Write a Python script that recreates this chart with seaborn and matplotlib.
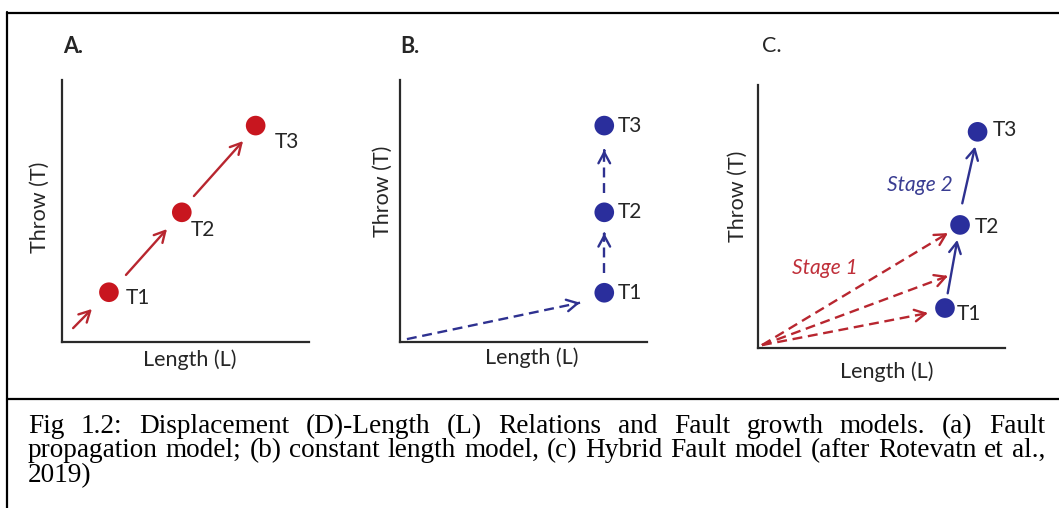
import matplotlib
matplotlib.use("Agg")
import matplotlib.pyplot as plt
import seaborn as sns
import numpy as np
import pandas as pd
from matplotlib.lines import Line2D

sns.set_theme(style="white")
plt.rcParams['font.family'] = ['Lato', 'DejaVu Sans']

# ---------------- data ----------------
labels = ["T1", "T2", "T3"]
# Panel A: fault propagation model
a_x = [1.90, 4.85, 7.84]
a_y = [1.90, 4.95, 8.26]
a_arrow_tail = [(0.45, 0.53), (2.59, 2.56), (5.34, 5.57)]
a_arrow_tip = [(1.21, 1.26), (4.25, 4.31), (7.33, 7.67)]
# Panel B: constant length model
b_x = [8.27, 8.27, 8.27]
b_y = [1.88, 4.95, 8.26]
b_arrow_tail = [(0.28, 0.11), (8.27, 2.62), (8.27, 5.68)]
b_arrow_tip = [(7.29, 1.50), (8.27, 4.15), (8.27, 7.33)]
# Panel C: hybrid model
c_x = [7.57, 8.18, 8.89]
c_y = [1.52, 4.68, 8.22]
c_red_tail = [(0.16, 0.11), (0.16, 0.11), (0.16, 0.11)]
c_red_tip = [(7.69, 4.37), (7.69, 2.74), (6.88, 1.33)]
c_blue_tail = [(7.68, 2.08), (8.27, 5.50)]
c_blue_tip = [(8.07, 4.11), (8.79, 7.66)]

panel_titles = ["A.", "B.", "C."]
xlabel = "Length (L)"
ylabel = "Throw (T)"
stage_labels = ["Stage 1", "Stage 2"]
caption_lines = [
    "Fig 1.2: Displacement (D)-Length (L) Relations and Fault growth models. (a) Fault",
    "propagation model; (b) constant length model, (c) Hybrid Fault model (after Rotevatn et al.,",
    "2019)",
]

# ---------------- style ----------------
W, H = 1059, 508
RED = "#c8161f"
RED_ARROW = "#b8262f"
BLUE = "#2a2e9c"
BLUE_ARROW = "#2e3190"
AXC = "#2a2a2a"
TXT = "#262626"
MS = 200

fig = plt.figure(figsize=(W / 100, H / 100), dpi=100)


def px_axes(left, right, top, bottom):
    ax = fig.add_axes([left / W, 1 - bottom / H, (right - left) / W, (bottom - top) / H])
    ax.set_xlim(0, 10)
    ax.set_ylim(0, 10)
    ax.set_xticks([])
    ax.set_yticks([])
    for s in ["top", "right"]:
        ax.spines[s].set_visible(False)
    for s in ["left", "bottom"]:
        ax.spines[s].set_linewidth(1.6)
        ax.spines[s].set_color(AXC)
    ax.patch.set_alpha(0)
    return ax


def fig_text(x, y, s, **kw):
    fig.text(x / W, 1 - y / H, s, **kw)


HEAD = "->,head_length=0.65,head_width=0.35"


def solid_arrow(ax, tail, tip, color):
    ax.annotate("", xy=tip, xytext=tail,
                arrowprops=dict(arrowstyle=HEAD, color=color, lw=1.7, shrinkA=0, shrinkB=0))


def dashed_arrow(ax, tail, tip, color):
    ax.plot([tail[0], tip[0]], [tail[1], tip[1]], color=color, lw=1.7,
            dashes=(4.2, 2.4), solid_capstyle="butt", clip_on=False)
    t = np.array(tip)
    d = t - np.array(tail)
    pre = t - d * 0.02
    ax.annotate("", xy=tip, xytext=tuple(pre),
                arrowprops=dict(arrowstyle=HEAD, color=color, lw=1.7, shrinkA=0, shrinkB=0))


LBL_FS = 15.5
PT_FS = 15

# ---- Panel A ----
axA = px_axes(62, 309, 80, 342)
for t, h in zip(a_arrow_tail, a_arrow_tip):
    solid_arrow(axA, t, h, RED_ARROW)
sns.scatterplot(x=a_x, y=a_y, ax=axA, s=MS, color=RED, edgecolor="none", zorder=5, clip_on=False)
a_lbl_off = [(0.69, -0.22), (0.35, -0.68), (0.78, -0.63)]
for xx, yy, lab, off in zip(a_x, a_y, labels, a_lbl_off):
    axA.text(xx + off[0], yy + off[1], lab, fontsize=PT_FS, color=TXT, ha="left", va="center")

# ---- Panel B ----
axB = px_axes(400, 647, 80, 342)
for t, h in zip(b_arrow_tail, b_arrow_tip):
    dashed_arrow(axB, t, h, BLUE_ARROW)
sns.scatterplot(x=b_x, y=b_y, ax=axB, s=MS, color=BLUE, edgecolor="none", zorder=5, clip_on=False)
for xx, yy, lab in zip(b_x, b_y, labels):
    axB.text(xx + 0.56, yy, lab, fontsize=PT_FS, color=TXT, ha="left", va="center")

# ---- Panel C ----
axC = px_axes(758, 1005, 85, 348)
for t, h in zip(c_red_tail, c_red_tip):
    dashed_arrow(axC, t, h, RED_ARROW)
for t, h in zip(c_blue_tail, c_blue_tip):
    solid_arrow(axC, t, h, BLUE_ARROW)
sns.scatterplot(x=c_x, y=c_y, ax=axC, s=MS, color=BLUE, edgecolor="none", zorder=5, clip_on=False)
c_lbl_off = [(0.47, -0.21), (0.61, -0.07), (0.62, 0.07)]
for xx, yy, lab, off in zip(c_x, c_y, labels, c_lbl_off):
    axC.text(xx + off[0], yy + off[1], lab, fontsize=PT_FS, color=TXT, ha="left", va="center")
axC.text(2.71, 3.04, stage_labels[0], fontsize=PT_FS, color="#c0303a", style="italic",
         ha="center", va="center")
axC.text(6.56, 6.20, stage_labels[1], fontsize=PT_FS, color="#3a3d92", style="italic",
         ha="center", va="center")

# ---- axis labels & titles (figure pixel placement) ----
for (xc, yc) in [(190, 360), (532, 358), (887, 372)]:
    fig_text(xc, yc, xlabel, fontsize=LBL_FS, color=TXT, ha="center", va="center")
for (xc, yc) in [(40, 207), (383, 191), (738, 196)]:
    fig_text(xc, yc, ylabel, fontsize=LBL_FS, color=TXT, ha="center", va="center", rotation=90)
fig_text(63, 46, panel_titles[0], fontsize=15.5, color=TXT, ha="left", va="center", weight="bold")
fig_text(400, 46, panel_titles[1], fontsize=15.5, color=TXT, ha="left", va="center", weight="bold")
fig_text(762, 46, panel_titles[2], fontsize=15.5, color=TXT, ha="left", va="center")

# ---- frame lines ----
def hline(y, x0, x1, lw=1.6):
    fig.add_artist(Line2D([x0 / W, x1 / W], [1 - y / H, 1 - y / H], color="black", lw=lw))

def vline(x, y0, y1, lw=1.6):
    fig.add_artist(Line2D([x / W, x / W], [1 - y0 / H, 1 - y1 / H], color="black", lw=lw))

hline(12.5, 6.5, W + 2)
hline(399, 6.5, W + 2)
vline(7.3, 12, H + 2)

# ---- caption, justified ----
CAP_FONT = ["Liberation Serif", "DejaVu Serif"]
left_px, right_px = 28, 1045
baselines = [433, 457, 482]
renderer = fig.canvas.get_renderer()

def word_widths(words, fs):
    ws = []
    for w in words:
        t = fig.text(0, 0, w, fontsize=fs, family=CAP_FONT)
        bb = t.get_window_extent(renderer=renderer)
        ws.append(bb.width)
        t.remove()
    return ws

def space_width(fs):
    t1 = fig.text(0, 0, "a a", fontsize=fs, family=CAP_FONT)
    t2 = fig.text(0, 0, "aa", fontsize=fs, family=CAP_FONT)
    w = t1.get_window_extent(renderer=renderer).width - t2.get_window_extent(renderer=renderer).width
    t1.remove(); t2.remove()
    return w

# choose font size so that line 2 fits with nearly natural spacing
base_fs = 10.0
w2 = word_widths(caption_lines[1].split(), base_fs)
sp = space_width(base_fs)
nat = sum(w2) + sp * (len(w2) - 1)
cap_fs = base_fs * (right_px - left_px) / nat * 0.985

for i, (line, bl) in enumerate(zip(caption_lines, baselines)):
    words = line.split()
    ws = word_widths(words, cap_fs)
    if i < len(caption_lines) - 1:
        gap = (right_px - left_px - sum(ws)) / (len(words) - 1)
    else:
        gap = space_width(cap_fs)
    x = left_px
    for w, ww in zip(words, ws):
        fig.text(x / W, 1 - bl / H, w, fontsize=cap_fs, family=CAP_FONT, color="black",
                 ha="left", va="baseline")
        x += ww + gap

fig.savefig("out.png", dpi=100, facecolor="white")
